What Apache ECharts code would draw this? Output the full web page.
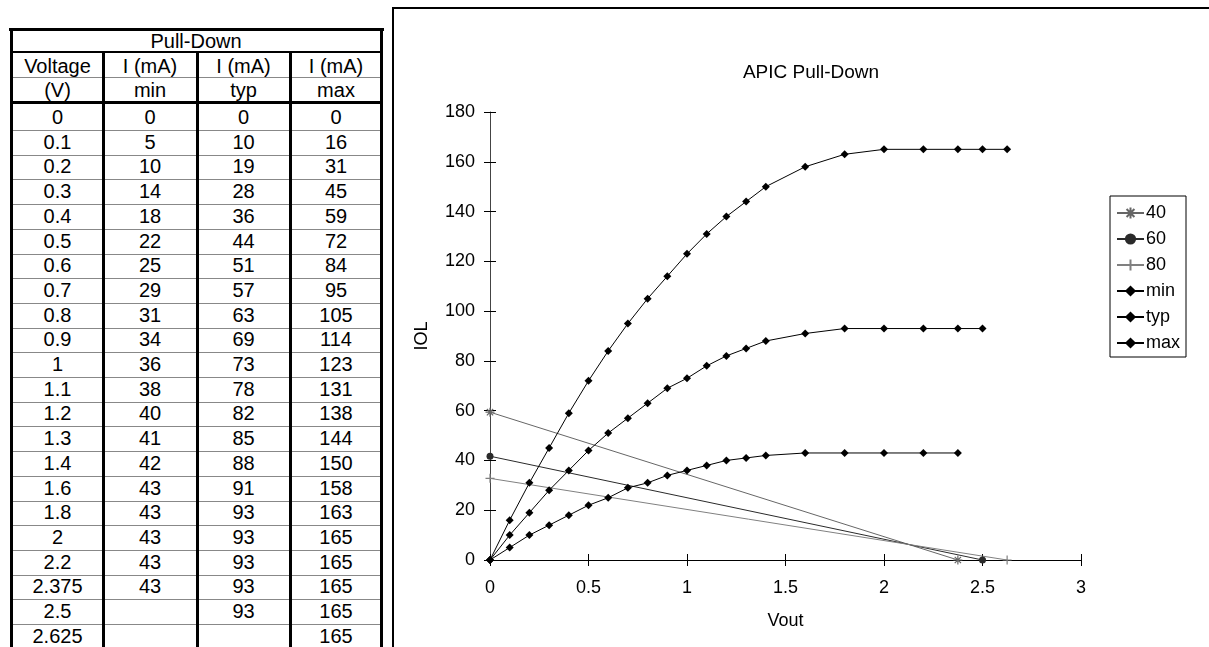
<!DOCTYPE html>
<html><head><meta charset="utf-8">
<script src="https://cdn.jsdelivr.net/npm/echarts@6/dist/echarts.min.js"></script>
<style>
html,body{margin:0;padding:0;width:1209px;height:647px;overflow:hidden;background:#fff;font-family:"Liberation Sans",Arial,sans-serif;}
#chart{position:absolute;left:0;top:0;width:1209px;height:647px;}
#frame{position:absolute;left:392px;top:7px;width:900px;height:700px;border:2px solid #000;box-sizing:border-box;}
#table{position:absolute;left:0;top:0;width:400px;height:647px;}
.c{position:absolute;text-align:center;font-size:20px;color:#000;line-height:22px;height:22px;white-space:nowrap;}
.l{position:absolute;}
</style></head><body>
<div id="frame"></div>
<div id="table"></div>
<div id="chart"></div>
<script>
// ---- data ----
const voltage = [0, 0.1, 0.2, 0.3, 0.4, 0.5, 0.6, 0.7, 0.8, 0.9, 1, 1.1, 1.2, 1.3, 1.4, 1.6, 1.8, 2, 2.2, 2.375, 2.5, 2.625];
const iMin = [0, 5, 10, 14, 18, 22, 25, 29, 31, 34, 36, 38, 40, 41, 42, 43, 43, 43, 43, 43, null, null];
const iTyp = [0, 10, 19, 28, 36, 44, 51, 57, 63, 69, 73, 78, 82, 85, 88, 91, 93, 93, 93, 93, 93, null];
const iMax = [0, 16, 31, 45, 59, 72, 84, 95, 105, 114, 123, 131, 138, 144, 150, 158, 163, 165, 165, 165, 165, 165];
const load40 = [[0, 59.4], [2.375, 0]];
const load60 = [[0, 41.7], [2.5, 0]];
const load80 = [[0, 32.8], [2.625, 0]];
const tableTitle = 'Pull-Down';
const headRow1 = ['Voltage', 'I (mA)', 'I (mA)', 'I (mA)'];
const headRow2 = ['(V)', 'min', 'typ', 'max'];
const seriesNames = ['40', '60', '80', 'min', 'typ', 'max'];
const chartTitle = 'APIC Pull-Down';
const xName = 'Vout';
const yName = 'IOL';

// ---- table (HTML) ----
const tb = document.getElementById('table');
function line(x, y, w, h, color) {
  const d = document.createElement('div');
  d.className = 'l';
  d.style.cssText = `left:${x}px;top:${y}px;width:${w}px;height:${h}px;background:${color};`;
  tb.appendChild(d);
}
function cell(text, cx, cy) {
  const d = document.createElement('div');
  d.className = 'c';
  d.style.left = (cx - 60) + 'px';
  d.style.width = '120px';
  d.style.top = (cy - 11) + 'px';
  d.textContent = text;
  tb.appendChild(d);
}
const colEdges = [11.5, 103.5, 197, 290, 381.5];
const colCenters = [57.5, 150, 243.5, 336];
const rowH = 24.7;
line(9, 27.5, 375, 3, '#000');
line(11, 51, 372, 1.5, '#000');
line(11, 76.5, 372, 1, '#888');
line(11, 100.5, 372, 3, '#000');
for (let k = 0; k < voltage.length - 1; k++) line(11, 130 + rowH * k, 372, 1, '#888');
colEdges.forEach((x, i) => {
  const top = (i === 0 || i === colEdges.length - 1) ? 27.5 : 51;
  line(x - 1.5, top, 3, 647 - top, '#000');
});
cell(tableTitle, 196, 41);
headRow1.forEach((t, i) => cell(t, colCenters[i], 65.5));
headRow2.forEach((t, i) => cell(t, colCenters[i], 89.5));
voltage.forEach((v, r) => {
  const cy = 117 + rowH * r;
  cell(String(v), colCenters[0], cy);
  cell(iMin[r] == null ? '' : String(iMin[r]), colCenters[1], cy);
  cell(iTyp[r] == null ? '' : String(iTyp[r]), colCenters[2], cy);
  cell(iMax[r] == null ? '' : String(iMax[r]), colCenters[3], cy);
});

// ---- chart ----
const pts = (xs, ys) => xs.map((x, i) => ys[i] == null ? null : [x, ys[i]]).filter(p => p);
const FONT = 'Liberation Sans';
const ASTER = 'path://M0,5L10,5M5,0L5,10M1.5,1.5L8.5,8.5M8.5,1.5L1.5,8.5';
const PLUS = 'path://M0,5L10,5M5,0L5,10';
function mkLoad(name, data, color, symbol, size, stroke) {
  return {
    name, type: 'line', data, xAxisIndex: 0, yAxisIndex: 0,
    symbol, symbolSize: size, showSymbol: true,
    lineStyle: { color, width: 1 },
    itemStyle: stroke ? { color: 'rgba(0,0,0,0)', borderColor: color, borderWidth: 1.2 } : { color },
    emphasis: { disabled: true }, z: 2
  };
}
function mkData(name, ys) {
  return {
    name, type: 'line', data: pts(voltage, ys), xAxisIndex: 0, yAxisIndex: 0,
    symbol: 'diamond', symbolSize: 8, showSymbol: true,
    lineStyle: { color: '#000', width: 1 }, itemStyle: { color: '#000' },
    emphasis: { disabled: true }, z: 3
  };
}
const axisLbl = { fontSize: 18, color: '#000', fontFamily: FONT };
const option = {
  animation: false,
  textStyle: { fontFamily: FONT },
  title: { text: chartTitle, left: 806, top: 58, textAlign: 'center',
    textStyle: { fontSize: 19, fontWeight: 'normal', color: '#000', fontFamily: FONT } },
  grid: { left: 490, right: 128, top: 112, bottom: 87 },
  xAxis: [
    { type: 'value', min: 0, max: 3, interval: 0.5, name: xName, nameLocation: 'middle', nameGap: 52,
      nameTextStyle: axisLbl,
      axisLine: { onZero: false, lineStyle: { color: '#000', width: 1 } },
      axisTick: { length: 6, lineStyle: { color: '#000' } },
      axisLabel: Object.assign({ margin: 19 }, axisLbl),
      splitLine: { show: false } },
    { type: 'value', min: 0, max: 3, interval: 0.5, position: 'bottom',
      axisLine: { show: false }, axisTick: { inside: true, length: 6, lineStyle: { color: '#000' } },
      axisLabel: { show: false }, splitLine: { show: false } }
  ],
  yAxis: [
    { type: 'value', min: 0, max: 180, interval: 20, name: yName, nameLocation: 'middle', nameGap: 59,
      nameRotate: 90, nameTextStyle: axisLbl, position: 'left',
      axisLine: { show: true, onZero: false, lineStyle: { color: '#444', width: 1 } },
      axisTick: { show: true, length: 6, lineStyle: { color: '#000' } },
      axisLabel: Object.assign({ margin: 15 }, axisLbl),
      splitLine: { show: false } },
    { type: 'value', min: 0, max: 180, interval: 20, position: 'left', offset: 0,
      axisLine: { show: false }, axisTick: { show: true, inside: true, length: 6, lineStyle: { color: '#000' } },
      axisLabel: { show: false }, splitLine: { show: false } }
  ],
  legend: {
    orient: 'vertical', left: 1110, top: 196, data: seriesNames,
    borderColor: '#000', borderWidth: 1, borderRadius: 0, padding: [8, 6, 5, 6],
    itemGap: 8, itemWidth: 27, itemHeight: 14,
    textStyle: { fontSize: 18, color: '#000', fontFamily: FONT, padding: [0, 0, 0, -3] }
  },
  series: [
    mkLoad('40', load40, '#666', ASTER, 9, true),
    mkLoad('60', load60, '#2a2a2a', 'circle', 7, false),
    mkLoad('80', load80, '#808080', PLUS, 9, true),
    mkData('min', iMin),
    mkData('typ', iTyp),
    mkData('max', iMax)
  ]
};
const chart = echarts.init(document.getElementById('chart'));
chart.setOption(option);
</script>
</body></html>
